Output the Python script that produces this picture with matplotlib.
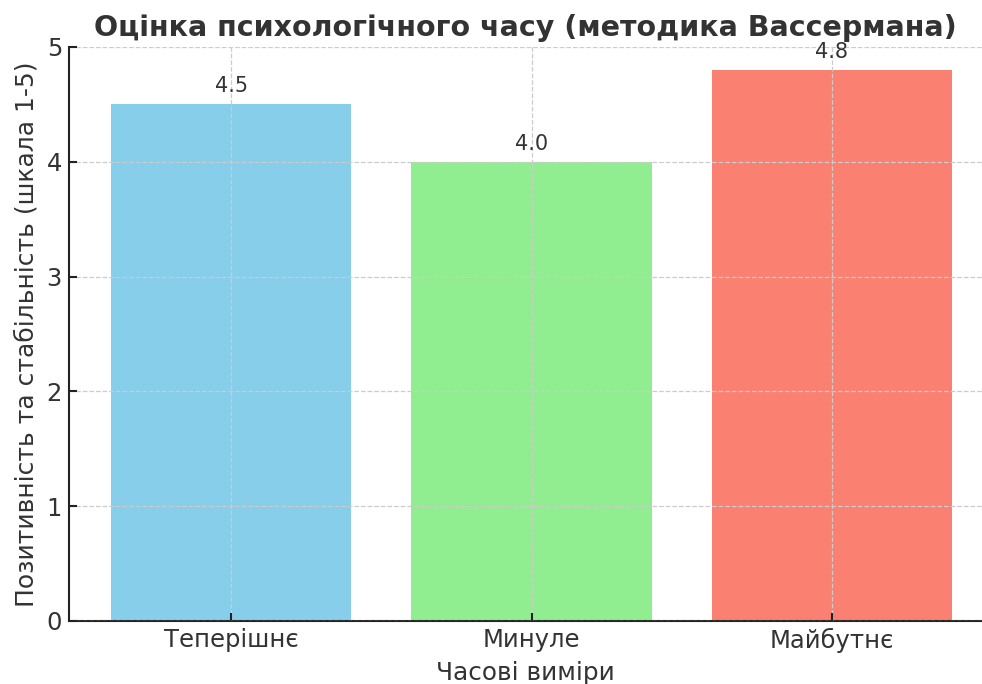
import matplotlib.pyplot as plt

categories = ['Теперішнє', 'Минуле', 'Майбутнє']
values = [4.5, 4.0, 4.8]
colors = ['skyblue', 'lightgreen', 'salmon']

title = 'Оцінка психологічного часу (методика Вассермана)'
xlabel = 'Часові виміри'
ylabel = 'Позитивність та стабільність (шкала 1-5)'

plt.rcParams['font.family'] = ['DejaVu Sans']
text_col = '#333333'

fig = plt.figure(figsize=(9.82, 6.84), dpi=100)
ax = fig.add_axes([69/982, 1 - 621/684, (982 - 69)/982, (621 - 47)/684])

x = range(len(categories))
bars = ax.bar(x, values, color=colors, width=0.8)

for b, v in zip(bars, values):
    ax.text(b.get_x() + b.get_width()/2, v + 0.07, f'{v:.1f}',
            ha='center', va='bottom', fontsize=15, color=text_col)

ax.set_xlim(-0.54, 2.5)
ax.set_ylim(0, 5)
ax.set_xticks(list(x))
ax.set_xticklabels(categories)
ax.set_yticks([0, 1, 2, 3, 4, 5])

ax.set_title(title, fontsize=20.5, fontweight='bold', color=text_col, pad=8)
ax.set_xlabel(xlabel, fontsize=17.8, color=text_col, labelpad=6)
ax.set_ylabel(ylabel, fontsize=18, color=text_col, labelpad=6)

ax.grid(True, linestyle='--', color='#cccccc', linewidth=0.9)
ax.set_axisbelow(False)

for s in ['top', 'right']:
    ax.spines[s].set_visible(False)
for s in ['left', 'bottom']:
    ax.spines[s].set_linewidth(1.5)
    ax.spines[s].set_color('#222222')

ax.tick_params(axis='both', direction='in', length=6, width=1.5,
               labelsize=17.5, labelcolor=text_col, color='#222222', pad=5)

fig.savefig('out.png', dpi=100)
